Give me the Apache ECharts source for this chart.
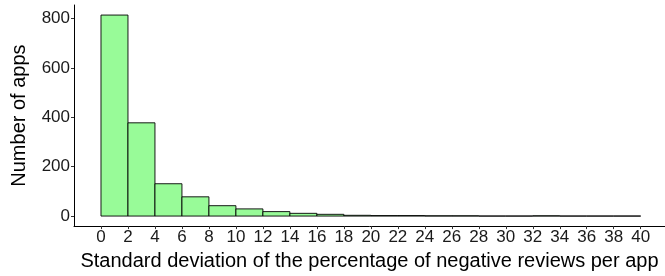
<!DOCTYPE html>
<html>
<head>
<meta charset="utf-8">
<script src="https://cdn.jsdelivr.net/npm/echarts@6/dist/echarts.min.js"></script>
<style>
  html, body { margin: 0; padding: 0; background: #fff; }
  #chart { width: 665px; height: 276px; }
</style>
</head>
<body>
<div id="chart"></div>
<script>
// histogram bins, width 2
const binStart = [0, 2, 4, 6, 8, 10, 12, 14, 16, 18, 20, 22, 24, 26, 28, 30, 32, 34, 36, 38]
const binEnd   = [2, 4, 6, 8, 10, 12, 14, 16, 18, 20, 22, 24, 26, 28, 30, 32, 34, 36, 38, 40]
const counts   = [815, 378, 131, 78, 42, 29, 18, 11, 7, 3, 2, 2, 1, 1, 0, 0, 1, 0, 0, 0]
const xTicks = [0, 2, 4, 6, 8, 10, 12, 14, 16, 18, 20, 22, 24, 26, 28, 30, 32, 34, 36, 38, 40]
const yTicks = [0, 200, 400, 600, 800]

const font = 'Liberation Sans, Arial, sans-serif'
const chart = echarts.init(document.getElementById('chart'))

const data = binStart.map((s, i) => [s, binEnd[i], counts[i]])

chart.setOption({
  animation: false,
  grid: {left: 74, right: 0, top: 5, bottom: 44},
  xAxis: {
    type: 'value',
    min: -2, max: 41.8,
    name: 'Standard deviation of the percentage of negative reviews per app',
    nameLocation: 'middle',
    nameGap: 17,
    nameTextStyle: {fontFamily: font, fontSize: 20, color: '#000'},
    axisLine: {show: true, onZero: false, lineStyle: {color: '#000', width: 1}},
    axisTick: {show: true, length: 3, customValues: xTicks, lineStyle: {color: '#333'}},
    axisLabel: {customValues: xTicks, fontFamily: font, fontSize: 17, color: '#1a1a1a', margin: 3},
    splitLine: {show: false}
  },
  yAxis: {
    type: 'value',
    min: -40.75, max: 855.75,
    name: 'Number of apps',
    nameLocation: 'middle',
    nameGap: 45,
    nameTextStyle: {fontFamily: font, fontSize: 20, color: '#000'},
    axisLine: {show: true, onZero: false, lineStyle: {color: '#000', width: 1}},
    axisTick: {show: true, length: 3, customValues: yTicks, lineStyle: {color: '#333'}},
    axisLabel: {customValues: yTicks, fontFamily: font, fontSize: 17, color: '#1a1a1a', margin: 4},
    splitLine: {show: false}
  },
  series: [{
    type: 'custom',
    data: data,
    renderItem: (params, api) => {
      const p0 = api.coord([api.value(0), api.value(2)])
      const p1 = api.coord([api.value(1), 0])
      return {
        type: 'rect',
        shape: {x: p0[0], y: p0[1], width: p1[0] - p0[0], height: p1[1] - p0[1]},
        style: {fill: '#98FB98', stroke: '#000', lineWidth: 0.9}
      }
    }
  }]
})
</script>
</body>
</html>
